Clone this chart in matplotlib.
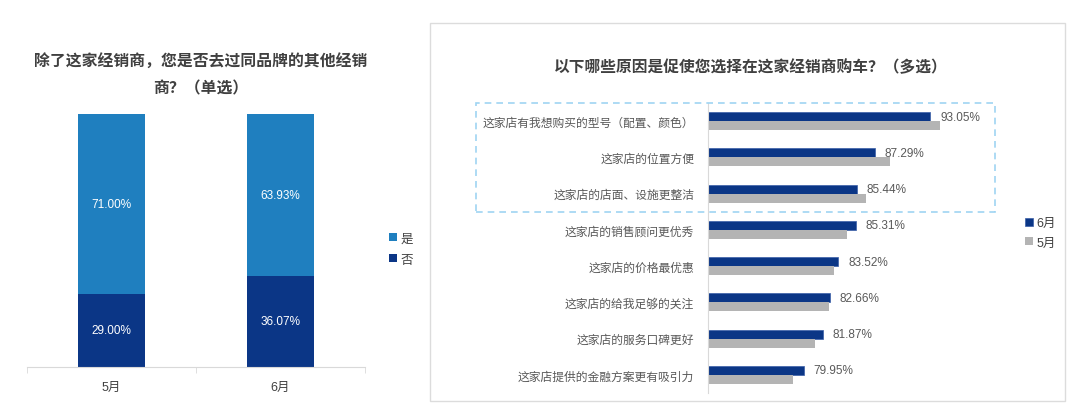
import matplotlib
matplotlib.use("Agg")
import matplotlib.pyplot as plt
from matplotlib.patches import Rectangle
import numpy as np

plt.rcParams['font.family'] = ['Liberation Sans', 'Noto Sans CJK SC', 'DejaVu Sans']

# 左图数据
months = ['5月', '6月']
yes_vals = [71.00, 63.93]
no_vals = [29.00, 36.07]

# 右图数据
reasons = ['这家店有我想购买的型号（配置、颜色）', '这家店的位置方便', '这家店的店面、设施更整洁',
           '这家店的销售顾问更优秀', '这家店的价格最优惠', '这家店的给我足够的关注',
           '这家店的服务口碑更好', '这家店提供的金融方案更有吸引力']
june_vals = [93.05, 87.29, 85.44, 85.31, 83.52, 82.66, 81.87, 79.95]
may_vals = [94.0, 88.9, 86.4, 84.4, 83.1, 82.5, 81.1, 78.8]

W, H = 1080, 414
fig = plt.figure(figsize=(W / 100, H / 100), dpi=100)


def box(x0, y0, x1, y1):
    # 像素坐标 -> figure 比例
    return [x0 / W, 1 - y1 / H, (x1 - x0) / W, (y1 - y0) / H]


c_yes = '#1f7fbf'
c_no = '#0b3686'
c_grey = '#b4b4b4'
txt = '#404040'

# ---------- 左图 ----------
ax1 = fig.add_axes(box(27, 115, 365, 368))
x = np.arange(len(months))
ax1.bar(x, no_vals, width=0.4, color=c_no, label='否')
ax1.bar(x, yes_vals, width=0.4, bottom=no_vals, color=c_yes, label='是')
for i in range(len(months)):
    ax1.text(x[i], no_vals[i] / 2, f'{no_vals[i]:.2f}%', color='white',
             ha='center', va='center', fontsize=8.5)
    ax1.text(x[i], no_vals[i] + yes_vals[i] / 2, f'{yes_vals[i]:.2f}%', color='white',
             ha='center', va='center', fontsize=8.5)
ax1.set_xlim(-0.5, 1.5)
ax1.set_ylim(0, 100)
ax1.set_yticks([])
for s in ['top', 'right', 'left']:
    ax1.spines[s].set_visible(False)
ax1.spines['bottom'].set_color('#d9d9d9')
ax1.set_xticks(x)
ax1.set_xticklabels(months, fontsize=9, color=txt)
ax1.tick_params(axis='x', length=0, pad=10)
ax1.set_xticks([-0.5, 0.5, 1.5], minor=True)
ax1.tick_params(axis='x', which='minor', length=4, color='#d9d9d9')
fig.text(201 / W, 1 - 62 / H, '除了这家经销商，您是否去过同品牌的其他经销', ha='center', va='center',
         fontsize=11.4, fontweight='bold', color=txt)
fig.text(201 / W, 1 - 89 / H, '商？（单选）', ha='center', va='center',
         fontsize=11.4, fontweight='bold', color=txt)
h, l = ax1.get_legend_handles_labels()
fig.legend(h[::-1], l[::-1], loc='center left', bbox_to_anchor=(378 / W, 1 - 250 / H),
           frameon=False, fontsize=9, handlelength=0.6, handleheight=0.6,
           handletextpad=0.3, labelspacing=0.75, labelcolor=txt)

# ---------- 右图 ----------
fig.add_artist(Rectangle((430 / W, 1 - 402 / H), 635 / W, 378 / H, transform=fig.transFigure,
                         fill=False, edgecolor='#dcdcdc', linewidth=1))
ax2 = fig.add_axes(box(708, 104, 997.5, 394))
y = np.arange(len(reasons))
ax2.barh(y - 0.125, june_vals, height=0.25, color=c_no, edgecolor='#3a5ea8',
         linewidth=0.5, label='6月')
ax2.barh(y + 0.125, may_vals, height=0.25, color=c_grey, label='5月')
for i in range(len(reasons)):
    ax2.annotate(f'{june_vals[i]:.2f}%', (june_vals[i], y[i] - 0.125), xytext=(7, 0),
                 textcoords='offset points', va='center', ha='left', fontsize=8.5,
                 color='#595959')
ax2.set_xlim(70, 100)
ax2.set_ylim(7.5, -0.5)
ax2.set_xticks([])
ax2.set_yticks(y)
ax2.set_yticklabels(reasons, fontsize=8.5, color='#595959')
ax2.tick_params(axis='y', length=0, pad=10)
for s in ['top', 'right', 'bottom']:
    ax2.spines[s].set_visible(False)
ax2.spines['left'].set_color('#d9d9d9')
fig.text(751 / W, 1 - 67 / H, '以下哪些原因是促使您选择在这家经销商购车？（多选）', ha='center',
         va='center', fontsize=11.3, fontweight='bold', color=txt)
h, l = ax2.get_legend_handles_labels()
fig.legend(h, l, loc='center left', bbox_to_anchor=(1014 / W, 1 - 234 / H),
           frameon=False, fontsize=9, handlelength=0.6, handleheight=0.6,
           handletextpad=0.3, labelspacing=0.6, labelcolor=txt)
fig.add_artist(Rectangle((476 / W, 1 - 213 / H), 519 / W, 109 / H, transform=fig.transFigure,
                         fill=False, edgecolor='#9fd4f2', linewidth=1.2, linestyle=(0, (4, 3))))

fig.savefig('out.png', dpi=100, facecolor='white')
